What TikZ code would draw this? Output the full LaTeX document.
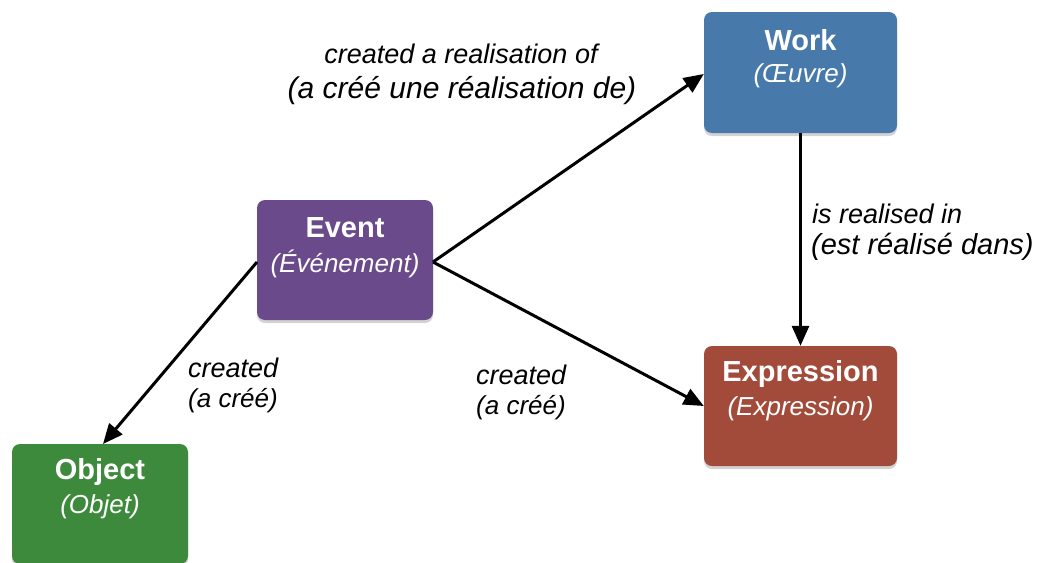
\documentclass[tikz,border=0pt]{standalone}
\usepackage{fontspec}
\setmainfont{Liberation Sans}
\usetikzlibrary{arrows.meta,shadows}
\definecolor{workc}{HTML}{4779AA}
\definecolor{eventc}{HTML}{6A4A8A}
\definecolor{exprc}{HTML}{A34B3B}
\definecolor{objc}{HTML}{3D8A3D}
\tikzset{
  box/.style={rounded corners=8pt, minimum width=193pt, minimum height=121pt, inner sep=0pt,
    drop shadow={shadow xshift=0pt, shadow yshift=-3pt, opacity=0.35}},
  ttl/.style={text=white, font=\fontsize{29}{32}\selectfont\bfseries, inner sep=0pt},
  sub/.style={text=white, font=\fontsize{26}{30}\selectfont\itshape, inner sep=0pt},
  lab/.style={font=\fontsize{27}{30}\selectfont\itshape, inner sep=0pt, anchor=west},
  conn/.style={line width=3pt, -{Triangle[length=20pt,width=17pt]}},
}
\begin{document}
\begin{tikzpicture}[x=1pt,y=-1pt]
\useasboundingbox (0,0) rectangle (1038,562);
\clip (0,0) rectangle (1038,562);
% boxes
\node[box, fill=workc] (work) at (800.5,72.5) {};
\node[box, fill=eventc, minimum width=176pt, minimum height=120pt] (event) at (345,260) {};
\node[box, fill=exprc, minimum height=120pt] (expr) at (800.5,406) {};
\node[box, fill=objc, minimum width=176pt, minimum height=120pt] (obj) at (100,504) {};
% titles
\node[ttl] (workt) at (800.5,40) {Work};
\node[sub] (works) at (800.5,76) {(Œuvre)};
\node[ttl] (eventt) at (345,228) {Event};
\node[sub] (events) at (345,264) {(Événement)};
\node[ttl] (exprt) at (800.5,374) {Expression};
\node[sub] (exprs) at (800.5,409) {(Expression)};
\node[ttl] (objt) at (100,472) {Object};
\node[sub] (objs) at (100,507) {(Objet)};
% connectors
\coordinate (evR) at (433,262);
\coordinate (evL) at (257,262);
\draw[conn] (evR) -- (work.west |- 0,74);
\draw[conn] (evR) -- (expr.west);
\draw[conn] (evL) -- (103,444) coordinate (objtop);
\draw[conn] (work.south) -- (expr.north);
% labels
\node[font=\fontsize{27}{30}\selectfont\itshape, inner sep=0pt] (l1a) at (461,54) {created a realisation of};
\node[font=\fontsize{30}{34}\selectfont\itshape, inner sep=0pt] (l1b) at (462,91) {(a créé une réalisation de)};
\node[lab] (l2a) at (812,214) {is realised in};
\node[lab, font=\fontsize{29}{32}\selectfont\itshape] (l2b) at (811,247) {(est réalisé dans)};
\node[lab] (l3a) at (188,368) {created};
\node[lab, font=\fontsize{26}{30}\selectfont\itshape] (l3b) at (188,401) {(a créé)};
\node[lab] (l4a) at (476,375) {created};
\node[lab, font=\fontsize{26}{30}\selectfont\itshape] (l4b) at (476,408) {(a créé)};
\end{tikzpicture}
\end{document}
